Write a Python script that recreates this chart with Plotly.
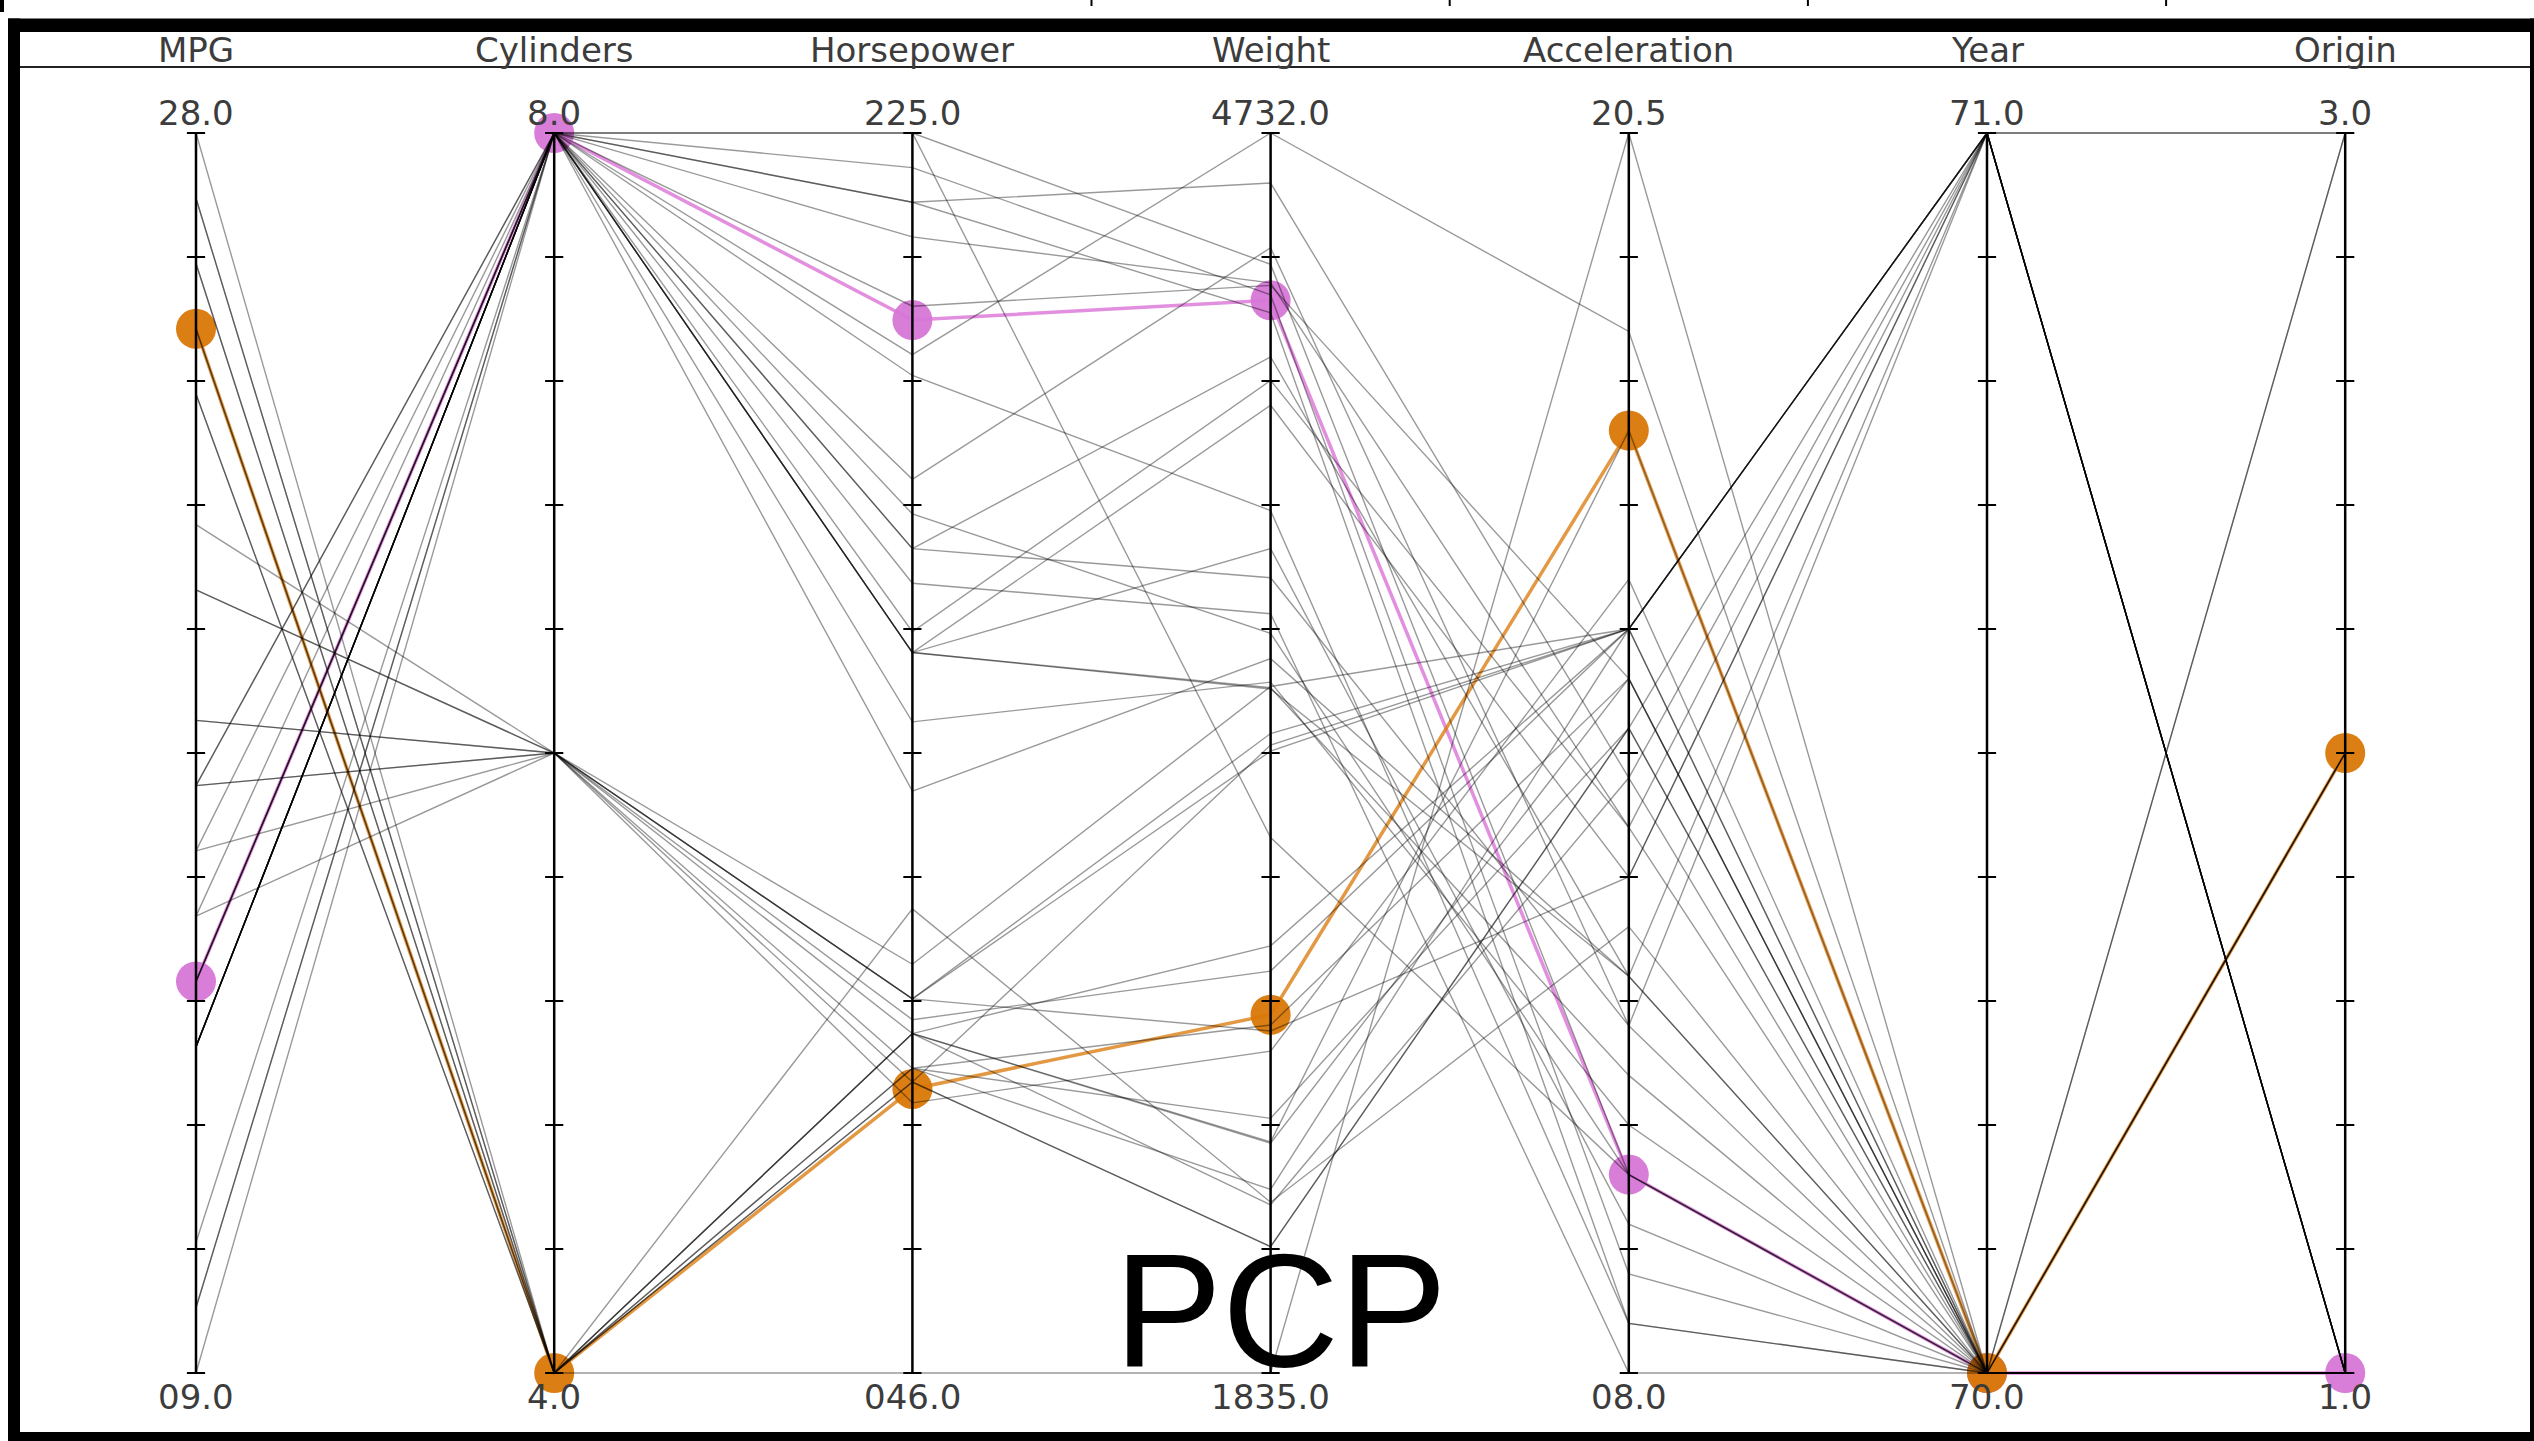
import plotly.graph_objects as go

# axis titles, left to right
dimensions = ["MPG", "Cylinders", "Horsepower", "Weight", "Acceleration", "Year", "Origin"]

# one value per car, same car order in every list (1970-71 models)
mpg = [18, 15, 18, 16, 17, 15, 14, 14, 14, 15, 15, 14, 15, 14, 24, 22, 18, 21, 27, 26, 25,
       24, 25, 26, 21, 10, 10, 11, 9,
       27, 28, 25, 19, 16, 17, 19, 18, 14, 14, 14, 14]
cylinders = [8, 8, 8, 8, 8, 8, 8, 8, 8, 8, 8, 8, 8, 8, 4, 6, 6, 6, 4, 4, 4,
             4, 4, 4, 6, 8, 8, 8, 8,
             4, 4, 4, 6, 6, 6, 6, 6, 8, 8, 8, 8]
horsepower = [130, 165, 150, 150, 140, 198, 220, 215, 225, 190, 170, 160, 150, 225, 95, 95, 97, 85, 88, 46, 87,
              90, 95, 113, 90, 215, 200, 210, 193,
              88, 90, 95, 100, 105, 100, 88, 100, 165, 175, 153, 150]
weight = [3504, 3693, 3436, 3433, 3449, 4341, 4354, 4312, 4425, 3850, 3563, 3609, 3761, 3086, 2372, 2833, 2774,
          2587, 2130, 1835, 2672, 2430, 2375, 2234, 2648, 4615, 4376, 4382, 4732,
          2130, 2264, 2228, 2634, 3439, 3329, 3302, 3288, 4209, 4464, 4154, 4096]
acceleration = [12.0, 11.5, 11.0, 12.0, 10.5, 10.0, 9.0, 8.5, 10.0, 8.5, 10.0, 8.0, 9.5, 10.0, 15.0, 15.5, 15.5,
                16.0, 14.5, 20.5, 17.5, 14.5, 17.5, 12.5, 15.0, 14.0, 15.0, 13.5, 18.5,
                14.5, 15.5, 14.0, 13.0, 15.5, 15.5, 15.5, 15.5, 12.0, 11.5, 13.5, 13.0]
year = [70] * 29 + [71] * 12
origin = [1, 1, 1, 1, 1, 1, 1, 1, 1, 1, 1, 1, 1, 1, 3, 1, 1, 1, 3, 2, 2,
          2, 2, 2, 1, 1, 1, 1, 1,
          3, 1, 3, 1, 1, 1, 1, 1, 1, 1, 1, 1]

# selected cars: ford galaxie 500 (1970) and peugeot 504
highlighted = [5, 20]

columns = [mpg, cylinders, horsepower, weight, acceleration, year, origin]
lows = [min(c) for c in columns]
highs = [max(c) for c in columns]

# page geometry in pixels
W, H = 2534, 1441
AXIS_LEFT_PX = 196
AXIS_STEP_PX = 358.2
TOP_PX = 133
BOTTOM_PX = 1373
FONT = "DejaVu Sans"
TEXT_COLOR = "#3c3c3c"
GRAY_LINE = "rgba(0,0,0,0.4)"
HIGHLIGHT_STYLE = {5: ("rgba(218,112,214,0.78)", "#d676d6"), 20: ("rgba(217,119,6,0.75)", "#d97706")}

span = BOTTOM_PX - TOP_PX
x_range = [-AXIS_LEFT_PX / AXIS_STEP_PX, (W - AXIS_LEFT_PX) / AXIS_STEP_PX]
y_range = [-(H - BOTTOM_PX) / span, 1 + TOP_PX / span]


def scaled(row):
    """Position of one car on every axis, 0 at the bottom and 1 at the top."""
    return [(col[row] - lo) / (hi - lo) for col, lo, hi in zip(columns, lows, highs)]


axis_x = list(range(len(dimensions)))
fig = go.Figure()

# highlighted cars first, so the gray lines run over them
for row in highlighted:
    line_color, marker_color = HIGHLIGHT_STYLE[row]
    fig.add_trace(go.Scatter(x=axis_x, y=scaled(row), mode="lines",
                             line=dict(color=line_color, width=3.5), hoverinfo="skip"))
    fig.add_trace(go.Scatter(x=axis_x, y=scaled(row), mode="markers",
                             marker=dict(color=marker_color, size=40, opacity=0.95, line_width=0),
                             hoverinfo="skip"))

for row in range(len(mpg)):
    if row in highlighted:
        continue
    fig.add_trace(go.Scatter(x=axis_x, y=scaled(row), mode="lines",
                             line=dict(color=GRAY_LINE, width=1.4), hoverinfo="skip"))

# vertical axes with their tick marks
ax_x, ax_y = [], []
for i in axis_x:
    ax_x += [i, i, None]
    ax_y += [0, 1, None]
fig.add_trace(go.Scatter(x=ax_x, y=ax_y, mode="lines", line=dict(color="black", width=2.5),
                         hoverinfo="skip"))
tick_steps = [k / 10 for k in range(11)]
fig.add_trace(go.Scatter(x=[i for i in axis_x for _ in tick_steps],
                         y=tick_steps * len(axis_x), mode="markers",
                         marker=dict(symbol="line-ew", size=13, line=dict(color="black", width=2)),
                         hoverinfo="skip"))

annotations = []
for i, name in enumerate(dimensions):
    top = f"{highs[i]:.1f}"
    bottom = f"{lows[i]:0{len(top)}.1f}"
    annotations.append(dict(x=i, y=1 - 49.5 / H, xref="x", yref="paper", text=name))
    annotations.append(dict(x=i, y=1, xref="x", yref="y", text=top, yshift=20))
    annotations.append(dict(x=i, y=0, xref="x", yref="y", text=bottom, yshift=-24))
for a in annotations:
    a.update(showarrow=False, yanchor="middle", xanchor="center",
             font=dict(family=FONT, size=34, color=TEXT_COLOR))

annotations.append(dict(x=1280 / W, y=1 - 1309 / H, xref="paper", yref="paper", text="PCP",
                        showarrow=False, xanchor="center", yanchor="middle",
                        font=dict(family="Liberation Sans", size=162, color="black")))


def px_rect(x0, y0, x1, y1):
    return dict(type="rect", xref="paper", yref="paper", x0=x0 / W, x1=x1 / W,
                y0=1 - y1 / H, y1=1 - y0 / H, fillcolor="black", line_width=0, layer="above")


shapes = [
    px_rect(8, 18.5, W, 32),       # top border
    px_rect(8, 18.5, 20, H),       # left border
    px_rect(2530, 18.5, W, H),     # right border
    px_rect(8, 1432, W, H),        # bottom border
    px_rect(0, 0, 4, 12),          # stray mark top left
    dict(type="line", xref="paper", yref="paper", x0=20 / W, x1=2530 / W,
         y0=1 - 67 / H, y1=1 - 67 / H, line=dict(color="#222222", width=2)),
]
# stray tick marks left over from the panel above
for mid in [2.5, 3.5, 4.5, 5.5]:
    shapes.append(dict(type="line", xref="x", yref="paper", x0=mid, x1=mid,
                       y0=1 - 6 / H, y1=1, line=dict(color="black", width=2)))

fig.update_layout(
    width=W, height=H,
    margin=dict(l=0, r=0, t=0, b=0),
    paper_bgcolor="white", plot_bgcolor="white",
    showlegend=False,
    xaxis=dict(range=x_range, visible=False, fixedrange=True),
    yaxis=dict(range=y_range, visible=False, fixedrange=True),
    annotations=annotations,
    shapes=shapes,
)

# drop the browser's default body margin so the figure starts at the page corner
fig.write_html("out.html", config={"displayModeBar": False},
               post_script="document.body.style.margin = '0';")
